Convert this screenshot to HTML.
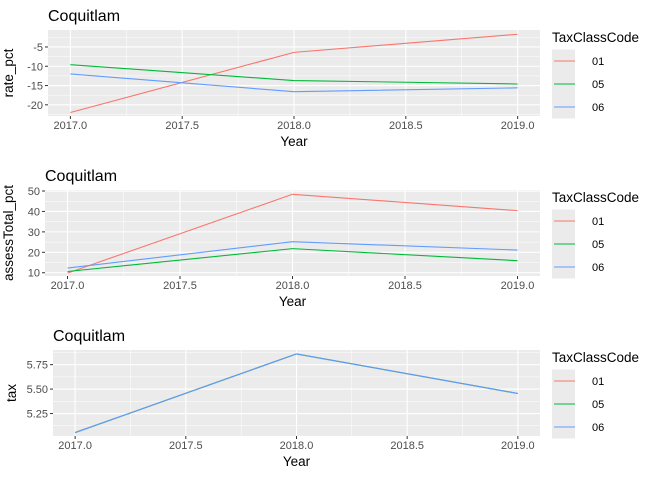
<!DOCTYPE html>
<html><head><meta charset="utf-8"><style>
body{margin:0;background:#fff;}
svg{display:block;font-family:"Liberation Sans",sans-serif;}
</style></head><body>
<svg id="c" width="672" height="480" xmlns="http://www.w3.org/2000/svg"></svg>
<script>
const years=[2017,2018,2019];
const classCodes=["01","05","06"];
const colors=["#F8766D","#00BA38","#619CFF"];
const rateVals=[[-22,-6.4,-1.7],[-9.6,-13.7,-14.6],[-12,-16.6,-15.6]];
const assessVals=[[9.8,48.4,40.4],[10.6,21.8,15.9],[12.3,25.2,21.1]];
const taxVals=[[5.055,5.86,5.455],[5.055,5.86,5.455],[5.055,5.86,5.455]];
const xTicks=[2017,2017.5,2018,2018.5,2019];
const xTickLabels=["2017.0","2017.5","2018.0","2018.5","2019.0"];
const rateTicks=[-5,-10,-15,-20];
const assessTicks=[50,40,30,20,10];
const taxTicks=[5.75,5.5,5.25];
const taxTickLabels=["5.75","5.50","5.25"];

const svg=document.getElementById('c');
const NS="http://www.w3.org/2000/svg";
function mk(tag,attrs,parent,text){const e=document.createElementNS(NS,tag);for(const k in attrs)e.setAttribute(k,attrs[k]);if(text!==undefined)e.textContent=text;(parent||svg).appendChild(e);return e;}

function panel(o){
  const g=mk('g',{});
  
  
  const L=o.left,R=540,T=o.top,B=o.top+86;
  const xs=v=>L+(v-2016.9)/(2019.1-2016.9)*(R-L);
  const ys=v=>B-(v-o.ymin)/(o.ymax-o.ymin)*(B-T);
  const bg=mk('rect',{x:L,y:T,width:R-L,height:B-T,fill:'#EBEBEB'},g);
  
  for(let i=0;i<xTicks.length-1;i++){const m=(xTicks[i]+xTicks[i+1])/2;mk('line',{x1:xs(m),x2:xs(m),y1:T,y2:B,stroke:'#fff','stroke-width':0.5},g);}
  for(let i=0;i<o.ticks.length-1;i++){const m=(o.ticks[i]+o.ticks[i+1])/2;mk('line',{x1:L,x2:R,y1:ys(m),y2:ys(m),stroke:'#fff','stroke-width':0.5},g);}
  if(o.extraMinor)o.extraMinor.forEach(m=>mk('line',{x1:L,x2:R,y1:ys(m),y2:ys(m),stroke:'#fff','stroke-width':0.5},g));
  xTicks.forEach((t,i)=>{
    mk('line',{x1:xs(t),x2:xs(t),y1:T,y2:B,stroke:'#fff','stroke-width':1.1},g);
    mk('line',{x1:xs(t),x2:xs(t),y1:B,y2:B+3,stroke:'#333','stroke-width':1},g);
    const tl=mk('text',{x:xs(t),y:B+13,'font-size':11,fill:'#4D4D4D','text-anchor':'middle'},g,xTickLabels[i]);
    
  });
  o.ticks.forEach((t,i)=>{
    mk('line',{x1:L,x2:R,y1:ys(t),y2:ys(t),stroke:'#fff','stroke-width':1.1},g);
    mk('line',{x1:L-3,x2:L,y1:ys(t),y2:ys(t),stroke:'#333','stroke-width':1},g);
    const tl=mk('text',{x:L-5,y:ys(t)+4,'font-size':11,fill:'#4D4D4D','text-anchor':'end'},g,o.labels[i]);
    
  });
  o.vals.forEach((s,k)=>{
    const p=mk('polyline',{points:s.map((v,i)=>xs(years[i])+','+ys(v)).join(' '),fill:'none',stroke:colors[k],'stroke-width':1.1},g);
    
  });
  const ti=mk('text',{x:L,y:T-9,'font-size':16,fill:'#000'},g,'Coquitlam');
  
  const xt=mk('text',{x:(L+R)/2,y:B+30,'font-size':13.5,fill:'#000','text-anchor':'middle'},g,'Year');
  
  const yt=mk('text',{x:0,y:0,'font-size':13.5,fill:'#000','text-anchor':'middle',transform:`translate(${o.ytx},${(T+B)/2}) rotate(-90)`},g,o.ytitle);
  
  const lg=mk('g',{},g);
  
  mk('text',{x:552,y:T+12,'font-size':13.5,fill:'#000'},lg,'TaxClassCode');
  classCodes.forEach((c,k)=>{
    const cy=T+31+k*23;
    const e=mk('g',{},lg);
    
    mk('rect',{x:552,y:cy-11.5,width:23,height:23,fill:'#EBEBEB'},e);
    mk('line',{x1:554,x2:575,y1:cy,y2:cy,stroke:colors[k],'stroke-width':1.1},e);
    mk('text',{x:592,y:cy+4,'font-size':11,fill:'#000'},e,c);
  });
}
panel({name:'rate',left:48,top:30,ymin:-22.9,ymax:-0.6,ticks:rateTicks,labels:rateTicks.map(String),vals:rateVals,ytitle:'rate_pct',ytx:13,extraMinor:[-2.5,-22.5]});
panel({name:'assess',left:45,top:190,ymin:8.4,ymax:50.5,ticks:assessTicks,labels:assessTicks.map(String),vals:assessVals,ytitle:'assessTotal_pct',ytx:13});
panel({name:'tax',left:53,top:350,ymin:5.02,ymax:5.9,ticks:taxTicks,labels:taxTickLabels,vals:taxVals,ytitle:'tax',ytx:16,extraMinor:[5.875,5.125]});
</script>
</body></html>
